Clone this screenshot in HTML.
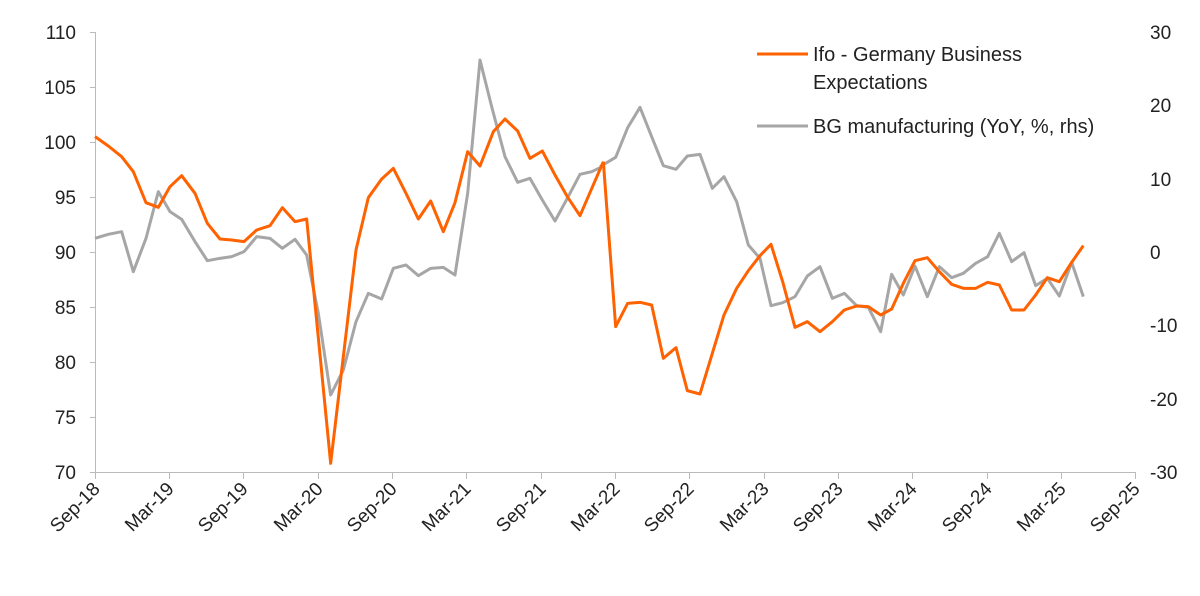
<!DOCTYPE html>
<html><head><meta charset="utf-8"><style>
html,body{margin:0;padding:0;background:#fff;}
svg text{font-family:"Liberation Sans",sans-serif;fill:#222;}
</style></head><body>
<svg width="1200" height="591" viewBox="0 0 1200 591" xmlns="http://www.w3.org/2000/svg">
<g stroke="#bbb" stroke-width="1" fill="none">
<line x1="95.5" y1="32" x2="95.5" y2="472"/>
<line x1="95" y1="472.5" x2="1135" y2="472.5"/>
<path d="M90 32.5H95M90 87.5H95M90 142.5H95M90 197.5H95M90 252.5H95M90 307.5H95M90 362.5H95M90 417.5H95M90 472.5H95"/>
<path d="M95.5 472V479M169.5 472V479M243.5 472V479M318.5 472V479M392.5 472V479M466.5 472V479M541.5 472V479M615.5 472V479M689.5 472V479M764.5 472V479M838.5 472V479M912.5 472V479M987.5 472V479M1061.5 472V479M1135.5 472V479"/>
</g>
<g font-size="19" text-anchor="end">
<text x="76" y="39">110</text><text x="76" y="94">105</text><text x="76" y="149">100</text><text x="76" y="204">95</text><text x="76" y="259">90</text><text x="76" y="314">85</text><text x="76" y="369">80</text><text x="76" y="424">75</text><text x="76" y="479">70</text>
</g>
<g font-size="19" text-anchor="start">
<text x="1150" y="39">30</text><text x="1150" y="112">20</text><text x="1150" y="186">10</text><text x="1150" y="259">0</text><text x="1150" y="332">-10</text><text x="1150" y="406">-20</text><text x="1150" y="479">-30</text>
</g>
<g font-size="19" text-anchor="end">
<text transform="translate(101,490) rotate(-45)">Sep-18</text>
<text transform="translate(175,490) rotate(-45)">Mar-19</text>
<text transform="translate(249,490) rotate(-45)">Sep-19</text>
<text transform="translate(324,490) rotate(-45)">Mar-20</text>
<text transform="translate(398,490) rotate(-45)">Sep-20</text>
<text transform="translate(472,490) rotate(-45)">Mar-21</text>
<text transform="translate(547,490) rotate(-45)">Sep-21</text>
<text transform="translate(621,490) rotate(-45)">Mar-22</text>
<text transform="translate(695,490) rotate(-45)">Sep-22</text>
<text transform="translate(770,490) rotate(-45)">Mar-23</text>
<text transform="translate(844,490) rotate(-45)">Sep-23</text>
<text transform="translate(918,490) rotate(-45)">Mar-24</text>
<text transform="translate(993,490) rotate(-45)">Sep-24</text>
<text transform="translate(1067,490) rotate(-45)">Mar-25</text>
<text transform="translate(1141,490) rotate(-45)">Sep-25</text>
</g>
<g transform="translate(90,20) scale(0.33333)" fill="none" stroke-linejoin="round">
<polyline vector-effect="non-scaling-stroke" stroke="#a6a6a6" stroke-width="3" points="15,655 55,643 95,635 130,755 168,655 205,515 240,575 275,598 315,665 352,722 390,715 425,710 462,695 500,650 540,655 577,685 615,658 650,705 685,880 722,1125 760,1050 798,905 835,820 875,837 910,745 948,735 985,767 1022,745 1060,742 1095,765 1133,520 1170,120 1205,260 1245,410 1283,487 1320,475 1357,540 1395,603 1432,535 1470,463 1505,455 1530,443"/>
</g>
<g transform="translate(600,20) scale(0.33333)" fill="none" stroke-linejoin="round">
<polyline vector-effect="non-scaling-stroke" stroke="#a6a6a6" stroke-width="3" points="0,440 47,412 83,323 120,262 155,350 190,437 228,448 262,408 300,403 337,505 372,470 410,545 445,675 480,715 513,857 548,848 585,830 622,768 660,740 697,835 733,820 770,857 805,862 842,935 875,763 910,825 945,738 982,830 1018,740 1055,773 1090,760 1127,730 1163,710 1198,640 1235,725 1272,698 1307,797 1342,775 1378,828 1415,727 1450,830"/>
</g>
<g transform="translate(90,20) scale(0.33333)" fill="none" stroke-linejoin="round">
<polyline vector-effect="non-scaling-stroke" stroke="#ff6200" stroke-width="3" points="15,350 55,378 95,410 130,455 168,548 205,562 240,500 275,467 315,520 352,610 390,657 425,660 462,665 500,630 540,617 577,563 615,605 650,597 722,1330 798,690 835,533 875,477 910,445 948,520 985,597 1022,543 1060,635 1095,548 1133,395 1170,438 1210,335 1245,297 1283,333 1320,415 1357,393 1395,465 1432,530 1470,587 1540,425"/>
</g>
<g transform="translate(600,20) scale(0.33333)" fill="none" stroke-linejoin="round">
<polyline vector-effect="non-scaling-stroke" stroke="#ff6200" stroke-width="3" points="10,425 47,920 83,850 120,847 155,855 190,1015 228,983 262,1112 300,1122 337,1000 372,885 410,805 445,752 480,707 513,673 548,785 585,922 622,905 660,935 697,905 733,870 770,858 805,860 842,885 875,867 910,790 945,722 982,713 1018,755 1055,793 1090,805 1127,805 1163,787 1198,795 1235,870 1272,870 1307,825 1342,773 1378,785 1415,727 1450,677"/>
</g>
<line x1="757" y1="54" x2="808" y2="54" stroke="#ff6200" stroke-width="3"/>
<line x1="757" y1="126" x2="808" y2="126" stroke="#a6a6a6" stroke-width="3"/>
<g font-size="20">
<text x="813" y="61">Ifo - Germany Business</text>
<text x="813" y="89">Expectations</text>
<text x="813" y="133">BG manufacturing (YoY, %, rhs)</text>
</g>
</svg>
</body></html>
